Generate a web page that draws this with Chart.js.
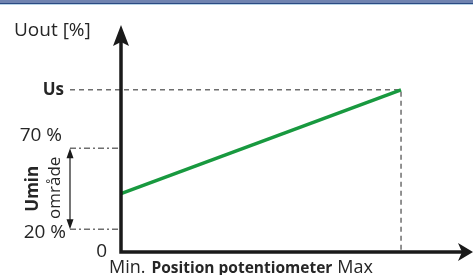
<!DOCTYPE html>
<html>
<head>
<meta charset="utf-8">
<script src="https://cdn.jsdelivr.net/npm/chart.js@4"></script>
<style>
  body { margin: 0; background: #fff; }
  #wrap { width: 473px; height: 275px; }
</style>
</head>
<body>
<div id="wrap"><canvas id="grafUout"></canvas></div>
<script>
// Data (schematic units: 0 = bottom, 100 = Us)
const positions = [0, 1];          // Min, Max
const uout = [36, 100];            // green line
const usLevel = 100;
const uminRange = [14, 64];        // 20 % .. 70 % band
const yTickValues = [0, 12, 72, 100];
const yTickLabels = ['0', '20 %', '70 %', 'Us'];
const xLabels = ['Min.', 'Position potentiometer', 'Max'];

const FONT = '"Open Sans", sans-serif';
const TXT = '#262626';
const GUIDE = '#6e6e6e';

function arrowHead(ctx, x, y, dir) {
    ctx.beginPath();
    if (dir === 'up') {
        ctx.moveTo(x, y);
        ctx.lineTo(x + 8, y + 21);
        ctx.lineTo(x, y + 17);
        ctx.lineTo(x - 8, y + 21);
    } else {
        ctx.moveTo(x, y);
        ctx.lineTo(x - 15, y - 9);
        ctx.lineTo(x - 11, y);
        ctx.lineTo(x - 15, y + 9);
    }
    ctx.closePath();
    ctx.fill();
}

const schemaPlugin = {
    id: 'schema',
    beforeDraw(chart) {
        const ctx = chart.ctx;
        ctx.save();
        ctx.fillStyle = '#7083b0';
        ctx.fillRect(0, 0, chart.width, 3);
        ctx.fillStyle = '#2b4a82';
        ctx.fillRect(0, 3, chart.width, 1);
        ctx.fillStyle = '#b8d4e8';
        ctx.fillRect(0, 4, chart.width, 1);
        ctx.restore();
    },
    beforeDatasetsDraw(chart) {
        const ctx = chart.ctx;
        const x = chart.scales.x, y = chart.scales.y;
        const x0 = x.getPixelForValue(0);
        const xMax = x.getPixelForValue(positions[1]);
        const yUs = y.getPixelForValue(usLevel);
        const y0 = y.getPixelForValue(0);
        const yLo = y.getPixelForValue(uminRange[0]);
        const yHi = y.getPixelForValue(uminRange[1]);
        ctx.save();
        ctx.strokeStyle = GUIDE;
        ctx.lineWidth = 1.5;
        // Us guide and Max guide
        ctx.setLineDash([5, 4]);
        ctx.beginPath();
        ctx.moveTo(70, yUs); ctx.lineTo(xMax, yUs);
        ctx.lineTo(xMax, y0);
        ctx.stroke();
        // Umin range guides (dash-dot)
        ctx.setLineDash([6, 3, 2, 3]);
        ctx.beginPath();
        ctx.moveTo(70, yHi); ctx.lineTo(x0, yHi);
        ctx.moveTo(70, yLo); ctx.lineTo(x0, yLo);
        ctx.stroke();
        // double arrow
        ctx.setLineDash([]);
        ctx.strokeStyle = '#1a1a1a';
        ctx.fillStyle = '#1a1a1a';
        ctx.lineWidth = 1.2;
        ctx.beginPath();
        ctx.moveTo(70, yHi + 4); ctx.lineTo(70, yLo - 4);
        ctx.stroke();
        ctx.beginPath();
        ctx.moveTo(70, yHi); ctx.lineTo(73.5, yHi + 10); ctx.lineTo(66.5, yHi + 10); ctx.closePath();
        ctx.moveTo(70, yLo); ctx.lineTo(73.5, yLo - 10); ctx.lineTo(66.5, yLo - 10); ctx.closePath();
        ctx.fill();
        ctx.restore();
    },
    afterDatasetsDraw(chart) {
        const ctx = chart.ctx;
        const area = chart.chartArea;
        const x = chart.scales.x, y = chart.scales.y;
        const x0 = x.getPixelForValue(0);
        const y0 = y.getPixelForValue(0);
        ctx.save();
        // axes
        ctx.strokeStyle = '#1a1a1a';
        ctx.fillStyle = '#1a1a1a';
        ctx.lineWidth = 3.5;
        ctx.beginPath();
        ctx.moveTo(x0, area.top + 16);
        ctx.lineTo(x0, y0);
        ctx.lineTo(area.right - 10, y0);
        ctx.stroke();
        arrowHead(ctx, x0, area.top, 'up');
        arrowHead(ctx, area.right, y0, 'right');

        // y labels
        ctx.fillStyle = TXT;
        ctx.textBaseline = 'middle';
        ctx.textAlign = 'right';
        const rights = [107, 66, 62, 64];
        yTickValues.forEach(function(v, i) {
            const bold = yTickLabels[i] === 'Us';
            ctx.font = (bold ? 'bold 17px ' : '19px ') + FONT;
            ctx.fillText(yTickLabels[i], rights[i], y.getPixelForValue(v));
        });

        // axis titles
        ctx.textAlign = 'left';
        ctx.font = '19px ' + FONT;
        ctx.fillText('Uout [%]', 14, 31);

        ctx.textBaseline = 'alphabetic';
        let cx = 109;
        ctx.font = '18px ' + FONT;
        ctx.fillText(xLabels[0], cx, 273);
        cx += ctx.measureText(xLabels[0]).width + 6;
        ctx.font = 'bold 15.5px ' + FONT;
        ctx.fillText(xLabels[1], cx, 273);
        cx += ctx.measureText(xLabels[1]).width + 5;
        ctx.font = '18px ' + FONT;
        ctx.fillText(xLabels[2], cx, 273);

        // rotated Umin område
        const yMid = (y.getPixelForValue(uminRange[0]) + y.getPixelForValue(uminRange[1])) / 2;
        ctx.textAlign = 'center';
        ctx.textBaseline = 'middle';
        ctx.translate(33, yMid);
        ctx.rotate(-Math.PI / 2);
        ctx.font = 'bold 17px ' + FONT;
        ctx.fillText('Umin', 0, 0);
        ctx.font = '17px ' + FONT;
        ctx.fillText('område', 1, 22);
        ctx.restore();
    }
};

new Chart(document.getElementById('grafUout'), {
    type: 'line',
    data: {
        datasets: [{
            data: positions.map(function(p, i) { return { x: p, y: uout[i] }; }),
            borderColor: '#18993f',
            borderWidth: 3.5,
            pointRadius: 0,
            tension: 0,
            clip: false
        }]
    },
    options: {
        responsive: true,
        maintainAspectRatio: false,
        animation: false,
        events: [],
        layout: { padding: { left: 121, top: 25, right: 0, bottom: 23 } },
        scales: {
            x: { type: 'linear', min: 0, max: 1.257, display: false },
            y: { type: 'linear', min: 0, max: 140, display: false }
        },
        plugins: {
            legend: { display: false },
            tooltip: { enabled: false }
        }
    },
    plugins: [schemaPlugin]
});
</script>
</body>
</html>
